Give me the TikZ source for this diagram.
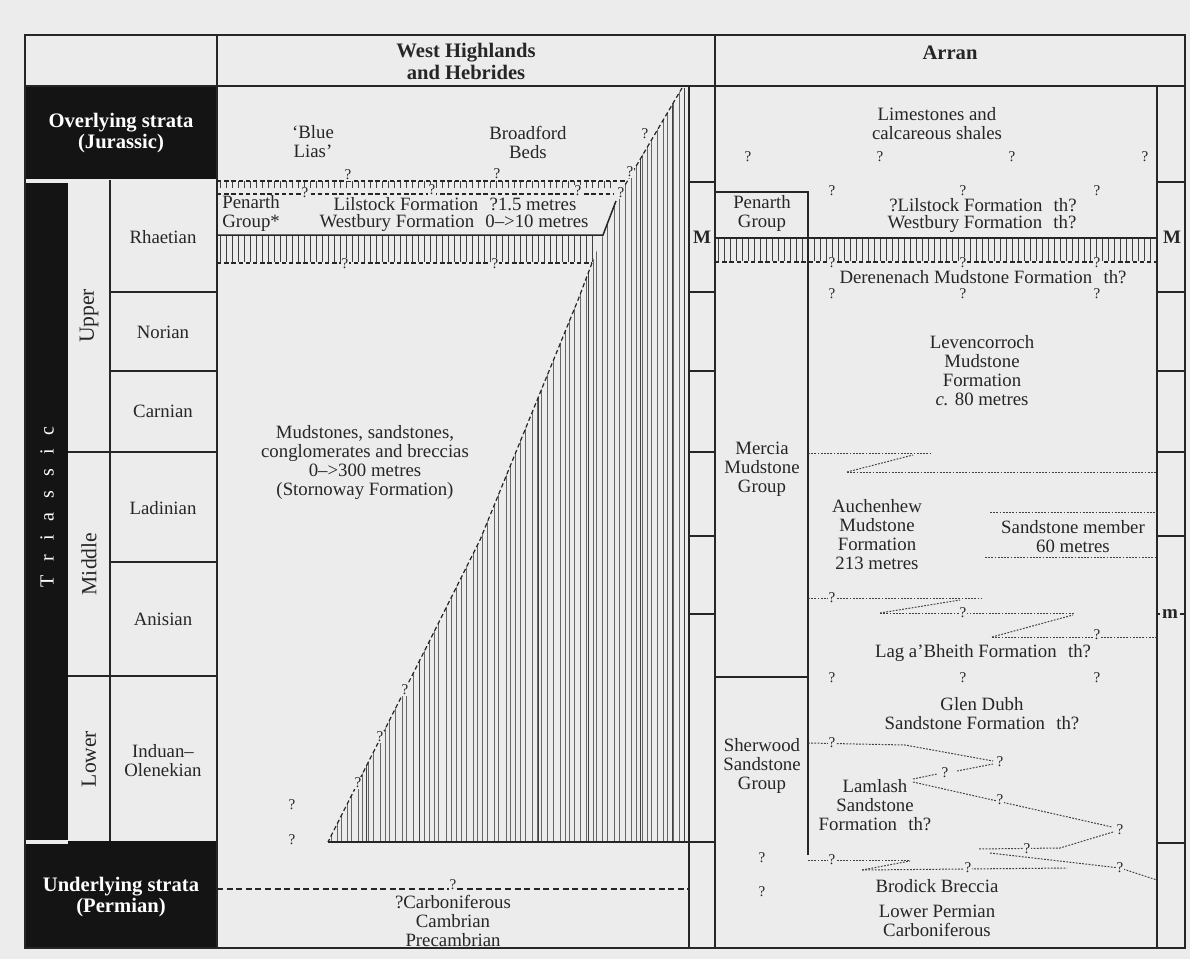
\documentclass[tikz,border=0pt]{standalone}
\usepackage{fontspec}
\setmainfont{Liberation Serif}
\definecolor{bgc}{RGB}{236,236,236}
\definecolor{ink}{RGB}{38,38,38}
\begin{document}
\begin{tikzpicture}[x=0.5pt,y=-0.5pt,
  grid/.style={line width=0.9pt, draw=ink},
  thinline/.style={line width=0.75pt, draw=ink},
  hatch/.style={line width=0.28pt, draw=black!60},
  dsh/.style={line width=0.6pt, dash pattern=on 2.2pt off 1.4pt, draw=ink},
  dotl/.style={line width=0.5pt, dash pattern=on 0.9pt off 0.7pt, draw=black!75},
  txt/.style={font=\fontsize{9.4}{9.5}\selectfont, align=center, inner sep=0pt, text=ink},
  hd/.style={font=\fontsize{10.3}{11}\selectfont\bfseries, align=center, inner sep=0pt, text=ink},
  wtxt/.style={font=\fontsize{10.3}{10.3}\selectfont\bfseries, align=center, inner sep=0pt, text=white},
  rot/.style={font=\fontsize{10.8}{11}\selectfont, rotate=90, inner sep=0pt, text=ink},
  qm/.style={font=\fontsize{7.5}{7.5}\selectfont, inner sep=0.4pt, text=ink, fill=bgc},
  mm/.style={font=\fontsize{9.5}{9.5}\selectfont\bfseries, inner sep=0.8pt, text=ink, fill=bgc},
]
\fill[bgc] (0,0) rectangle (1190,959);
\useasboundingbox (0,0) rectangle (1190,959);

% black blocks
\fill[black!92] (25,86) rectangle (217,179);
\fill[black!92] (25,183) rectangle (68,840);
\fill[black!92] (68,841) rectangle (217,948);
\fill[black!92] (25,844) rectangle (68,948);

% hatching of the West Highlands wedge
\begin{scope}
  \clip (682,88) -- (689,88) -- (689,842) -- (328,842) -- (430,640) -- (480,540)
        -- (578,300) -- (592,263) -- (603,235) -- (613,207) -- (620,193) -- cycle;
  \pgfmathsetseed{11}
  \foreach \i in {0,...,66} {
    \pgfmathsetmacro\xx{329+\i*5.45+rnd*3.2}
    \draw[hatch] (\xx,86) -- (\xx,842);
  }
  \foreach \xx in {366,419,538,588,640,672,684}
    \draw[hatch, line width=0.5pt, draw=black!75] (\xx,86) -- (\xx,842);
\end{scope}

% hatched bands
\foreach \x in {220,226,...,610} \draw[hatch, line width=0.4pt, draw=black!75] (\x,181) -- (\x,188);
\foreach \x in {220,226,...,596} \draw[hatch, line width=0.4pt, draw=black!75] (\x,236) -- (\x,262);
\foreach \x in {718,724,...,1154} \draw[hatch, line width=0.4pt, draw=black!75] (\x,239) -- (\x,261);

% frame and grid
\draw[grid] (25,35) rectangle (1185,948);
\draw[grid] (25,86) -- (1185,86);
\draw[grid] (217,35) -- (217,948);
\draw[grid] (715,35) -- (715,948);
\draw[grid] (689,86) -- (689,948);
\draw[grid] (1157,86) -- (1157,948);
\draw[thinline] (110,180) -- (110,841);
\foreach \y in {292,371,562} \draw[thinline] (110,\y) -- (217,\y);
\foreach \y in {452,676} \draw[thinline] (68,\y) -- (217,\y);
\foreach \y in {182,292,371,452,536,614,842} \draw[thinline] (689,\y) -- (715,\y);
\foreach \y in {182,292,371,452,536,614,843} \draw[thinline] (1157,\y) -- (1185,\y);

% West Highlands lines
\draw[dsh] (217,181) -- (626,181);
\draw[dsh] (217,194) -- (614,194);
\draw[thinline] (217,235) -- (603,235) -- (616,201);
\draw[dsh] (618,197) -- (682,88);
\draw[dsh] (217,263) -- (592,263);
\draw[dsh] (592,263) -- (578,300) -- (480,540) -- (430,640) -- (328,842);
\draw[thinline] (328,842) -- (689,842);
\draw[dsh, dash pattern=on 3pt off 1.8pt] (217,889) -- (689,889);

% Arran lines
\draw[thinline] (715,192) -- (808,192) -- (808,855);
\draw[thinline] (715,677) -- (808,677);
\draw[thinline] (715,238) -- (1157,238);
\draw[dsh] (715,262) -- (1157,262);

\draw[dotl] (808,453) -- (930,453);
\draw[dotl] (847,472) -- (913,455);
\draw[dotl] (847,472) -- (1157,472);
\draw[dotl] (990,512) -- (1157,512);
\draw[dotl] (985,557) -- (1157,557);
\draw[dotl] (808,598) -- (982,598);
\draw[dotl] (880,613) -- (960,600);
\draw[dotl] (880,613) -- (1075,613);
\draw[dotl] (992,637) -- (1073,615);
\draw[dotl] (992,637) -- (1157,637);
\draw[dotl] (808,743) -- (905,745) -- (993,761);
\draw[dotl] (957,771) -- (993,764);
\draw[dotl] (913,779) -- (937,774);
\draw[dotl] (913,782) -- (1112,827);
\draw[dotl] (1113,832) -- (1060,848) -- (978,849);
\draw[dotl] (990,853) -- (1120,868) -- (1157,880);
\draw[dotl] (808,860) -- (910,860);
\draw[dotl] (862,870) -- (910,861);
\draw[dotl] (862,870) -- (1067,868);

% headers
\node[hd] (hwh) at (466,61) {West Highlands\\and Hebrides};
\node[hd] (har) at (950,53) {Arran};

% left column
\node[wtxt] (over) at (121,133) {Overlying strata\\(Jurassic)};
\node[wtxt] (under) at (121,897) {Underlying strata\\(Permian)};
\node[font=\fontsize{10}{10}\selectfont, rotate=90, text=white, inner sep=0pt] (tri) at (47,507)
  {T\hspace{7pt}r\hspace{7pt}i\hspace{7pt}a\hspace{7pt}s\hspace{7pt}s\hspace{7pt}i\hspace{7pt}c};
\node[rot] (upper) at (89,316) {Upper};
\node[rot] (middle) at (89,564) {Middle};
\node[rot] (lower) at (89,759) {Lower};
\node[txt] (rha) at (163,237) {Rhaetian};
\node[txt] (nor) at (163,332) {Norian};
\node[txt] (car) at (163,411) {Carnian};
\node[txt] (lad) at (163,508) {Ladinian};
\node[txt] (ani) at (163,619) {Anisian};
\node[txt] (ind) at (163,761) {Induan–\\Olenekian};

% West Highlands texts
\node[txt] (blue) at (313,142) {‘Blue\\Lias’};
\node[txt] (broad) at (528,142) {Broadford\\Beds};
\node[txt, align=left, anchor=west] (penwh) at (222,213) {Penarth\\Group*};
\node[txt] (lilwh) at (455,204) {Lilstock Formation\hspace{0.6em}?1.5 metres};
\node[txt] (wstwh) at (454,223) {Westbury Formation\hspace{0.6em}0–>10 metres};
\node[txt] (mud) at (365,463) {Mudstones, sandstones,\\conglomerates and breccias\\0–>300 metres\\(Stornoway Formation)};
\node[txt] (carb) at (453,921) {?Carboniferous\\Cambrian\\Precambrian};
\node[mm] (mwh) at (702,237) {M};

% Arran texts
\node[txt] (lime) at (937,124) {Limestones and\\calcareous shales};
\node[txt] (penar) at (762,213) {Penarth\\Group};
\node[txt] (lilar) at (983,205) {?Lilstock Formation\hspace{0.6em}th?};
\node[txt] (wstar) at (982,224) {Westbury Formation\hspace{0.6em}th?};
\node[txt] (dere) at (983,277) {Derenenach Mudstone Formation\hspace{0.6em}th?};
\node[txt] (leven) at (982,371) {Levencorroch\\Mudstone\\Formation\\\textit{c.} 80 metres};
\node[txt] (merc) at (762,469) {Mercia\\Mudstone\\Group};
\node[txt] (auch) at (877,535) {Auchenhew\\Mudstone\\Formation\\213 metres};
\node[txt] (sand) at (1073,537) {Sandstone member\\60 metres};
\node[txt] (lag) at (983,653) {Lag a’Bheith Formation\hspace{0.6em}th?};
\node[txt] (glen) at (982,714) {Glen Dubh\\Sandstone Formation\hspace{0.6em}th?};
\node[txt] (sher) at (762,766) {Sherwood\\Sandstone\\Group};
\node[txt] (lam) at (875,805) {Lamlash\\Sandstone\\Formation\hspace{0.6em}th?};
\node[txt] (brod) at (937,886) {Brodick Breccia};
\node[txt] (lowp) at (937,921) {Lower Permian\\Carboniferous};
\node[mm] (mar) at (1172,237) {M};
\node[mm] (msm) at (1170,614) {m};

% question marks, West Highlands
\foreach \p [count=\k] in {(348,175),(497,174),(305,193),(432,190),(578,191),(621,193),
   (645,134),(630,172),(345,264),(495,264),(292,805),(292,840),
   (405,690),(380,737),(358,783),(453,885)}
   \node[qm] (qw\k) at \p {?};
% question marks, Arran
\foreach \p [count=\k] in {(748,157),(880,157),(1012,157),(1145,157),
   (832,191),(963,191),(1097,191),(832,263),(963,263),(1097,263),
   (832,294),(963,294),(1097,294),(832,598),(963,613),(1097,635),
   (832,678),(963,678),(1097,678),(832,743),(1000,762),(945,773),
   (1000,800),(1120,830),(1027,849),(1120,868),(832,860),(968,868),
   (762,858),(762,892)}
   \node[qm] (qa\k) at \p {?};
\end{tikzpicture}
\end{document}
